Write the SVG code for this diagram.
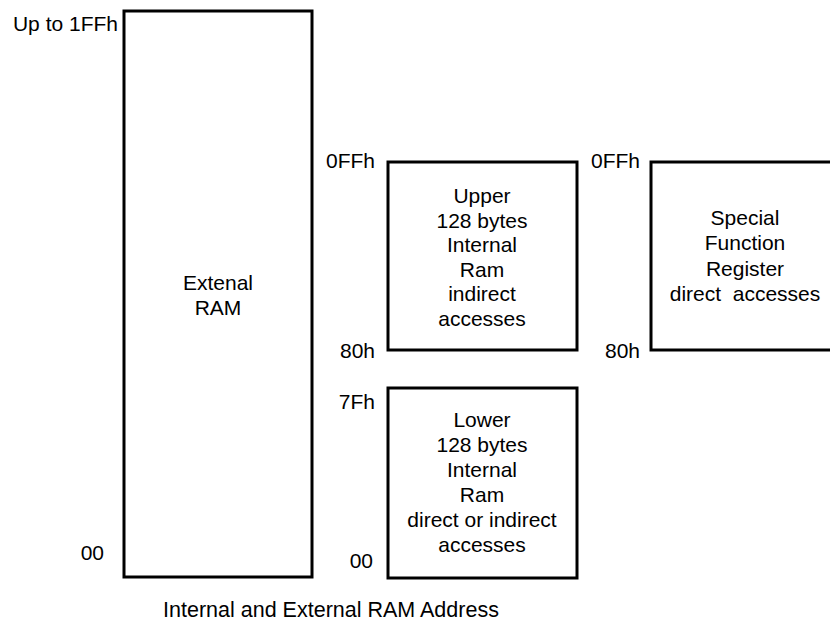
<svg xmlns="http://www.w3.org/2000/svg" width="830" height="621" viewBox="0 0 830 621">
<style>
text{font-family:"Liberation Sans",Arial,sans-serif;font-size:21px;fill:#000}
.c{text-anchor:middle}
.r{text-anchor:end}
.box{fill:#fff;stroke:#000;stroke-width:3}
.cap{font-size:21.5px}
</style>
<rect width="830" height="621" fill="#fff"/>
<g id="external-ram">
<rect class="box" x="124" y="11" width="188" height="566"/>
<text class="c" x="218" y="290">Extenal</text>
<text class="c" x="218" y="315">RAM</text>
<text class="r" x="118" y="31">Up to 1FFh</text>
<text class="r" x="104" y="560">00</text>
</g>
<g id="upper-ram">
<rect class="box" x="388" y="162" width="189" height="188"/>
<text class="c" x="482" y="203">Upper</text>
<text class="c" x="482" y="228">128 bytes</text>
<text class="c" x="482" y="252">Internal</text>
<text class="c" x="482" y="277">Ram</text>
<text class="c" x="482" y="301">indirect</text>
<text class="c" x="482" y="326">accesses</text>
<text class="r" x="375" y="168">0FFh</text>
<text class="r" x="375" y="358">80h</text>
</g>
<g id="lower-ram">
<rect class="box" x="388" y="388" width="189" height="190"/>
<text class="c" x="482" y="427">Lower</text>
<text class="c" x="482" y="452">128 bytes</text>
<text class="c" x="482" y="477">Internal</text>
<text class="c" x="482" y="502">Ram</text>
<text class="c" x="482" y="527">direct or indirect</text>
<text class="c" x="482" y="552">accesses</text>
<text class="r" x="375" y="409">7Fh</text>
<text class="r" x="373" y="568">00</text>
</g>
<g id="sfr">
<rect class="box" x="651" y="162" width="200" height="188"/>
<text class="c" x="745" y="225">Special</text>
<text class="c" x="745" y="250">Function</text>
<text class="c" x="745" y="276">Register</text>
<text class="c" x="745" y="301" xml:space="preserve">direct  accesses</text>
<text class="r" x="640" y="168">0FFh</text>
<text class="r" x="640" y="358">80h</text>
</g>
<g id="connectors"/>
<text class="c cap" x="331" y="617">Internal and External RAM Address</text>
</svg>
